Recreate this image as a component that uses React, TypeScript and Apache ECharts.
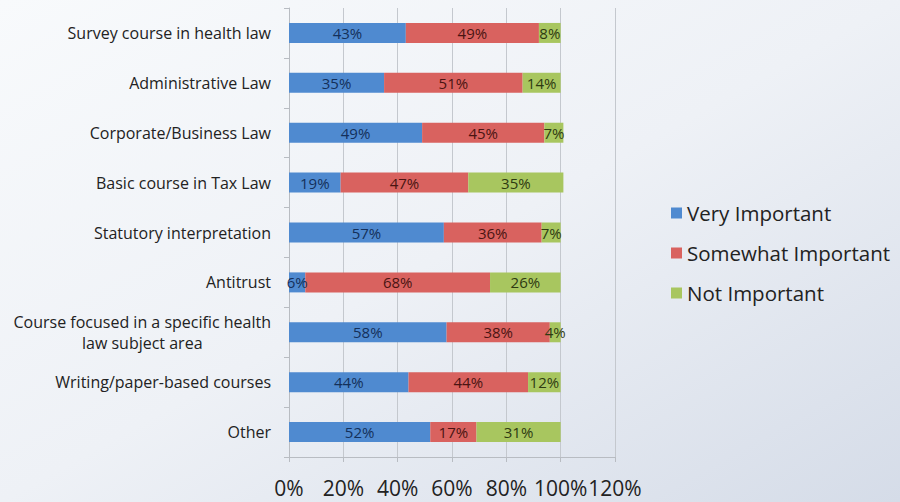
import React, { useEffect, useRef } from "react";
import * as echarts from "echarts";

const categories = [
  "Survey course in health law",
  "Administrative Law",
  "Corporate/Business Law",
  "Basic course in Tax Law",
  "Statutory interpretation",
  "Antitrust",
  "Course focused in a specific health law subject area",
  "Writing/paper-based courses",
  "Other",
];
const veryImportant = [43, 35, 49, 19, 57, 6, 58, 44, 52];
const somewhatImportant = [49, 51, 45, 47, 36, 68, 38, 44, 17];
const notImportant = [8, 14, 7, 35, 7, 26, 4, 12, 31];
const seriesNames = ["Very Important", "Somewhat Important", "Not Important"];
const xTicks = [0, 20, 40, 60, 80, 100, 120];

const FONT = "'Open Sans', 'Noto Sans', sans-serif";

export default function App() {
  const ref = useRef<HTMLDivElement>(null);
  useEffect(() => {
    if (!ref.current) return;
    const chart = echarts.init(ref.current, undefined, { renderer: "svg" });
    const mk = (name: string, data: number[], color: string, labelColor: string) => ({
      name,
      type: "bar",
      stack: "total",
      barWidth: 20,
      data,
      itemStyle: { color },
      label: {
        show: true,
        position: "inside",
        formatter: "{c}%",
        color: labelColor,
        fontSize: 15,
        fontFamily: FONT,
      },
    });
    chart.setOption({
      animation: false,
      backgroundColor: {
        type: "linear",
        x: 0,
        y: 0,
        x2: 1,
        y2: 1,
        colorStops: [
          { offset: 0, color: "#f8fafc" },
          { offset: 0.5, color: "#eef1f6" },
          { offset: 1, color: "#d5dce8" },
        ],
      },
      textStyle: { fontFamily: FONT },
      grid: { left: 289, right: 285, top: 8, bottom: 45, containLabel: false },
      legend: {
        orient: "vertical",
        left: 666,
        top: 196,
        itemWidth: 11,
        itemHeight: 11,
        itemGap: 16,
        icon: "rect",
        textStyle: { fontSize: 20.5, color: "#222", fontFamily: FONT, lineHeight: 24 },
        data: seriesNames,
      },
      xAxis: {
        type: "value",
        min: 0,
        max: 120,
        interval: 20,
        axisLine: { show: true, lineStyle: { color: "#b8bcc2" } },
        axisTick: { show: true, length: 5, lineStyle: { color: "#b8bcc2" } },
        splitLine: { show: true, lineStyle: { color: "#c4c8ce" } },
        axisLabel: {
          formatter: (v: number) => (xTicks.includes(v) ? v + "%" : ""),
          fontSize: 21,
          color: "#222",
          margin: 20,
          fontFamily: FONT,
        },
      },
      yAxis: {
        type: "category",
        inverse: true,
        data: categories,
        axisLine: { show: true, lineStyle: { color: "#b8bcc2" } },
        axisTick: { show: true, length: 5, lineStyle: { color: "#b8bcc2" } },
        axisLabel: {
          fontSize: 16,
          color: "#222",
          margin: 18,
          fontFamily: FONT,
          formatter: (v: string) =>
            v.length > 30
              ? "{c|Course focused in a specific health}\n{c|law subject area}"
              : "{c|" + v + "}",
          rich: { c: { align: "center", fontSize: 16, color: "#222", fontFamily: FONT, lineHeight: 21 } },
        },
      },
      series: [
        mk(seriesNames[0], veryImportant, "#4f8ad0", "#14305a"),
        mk(seriesNames[1], somewhatImportant, "#d9625f", "#4a1412"),
        mk(seriesNames[2], notImportant, "#a8c65f", "#2e3a12"),
      ],
    });
    return () => chart.dispose();
  }, []);
  return <div ref={ref} style={{ position: "fixed", left: 0, top: 0, width: 900, height: 502 }} />;
}
